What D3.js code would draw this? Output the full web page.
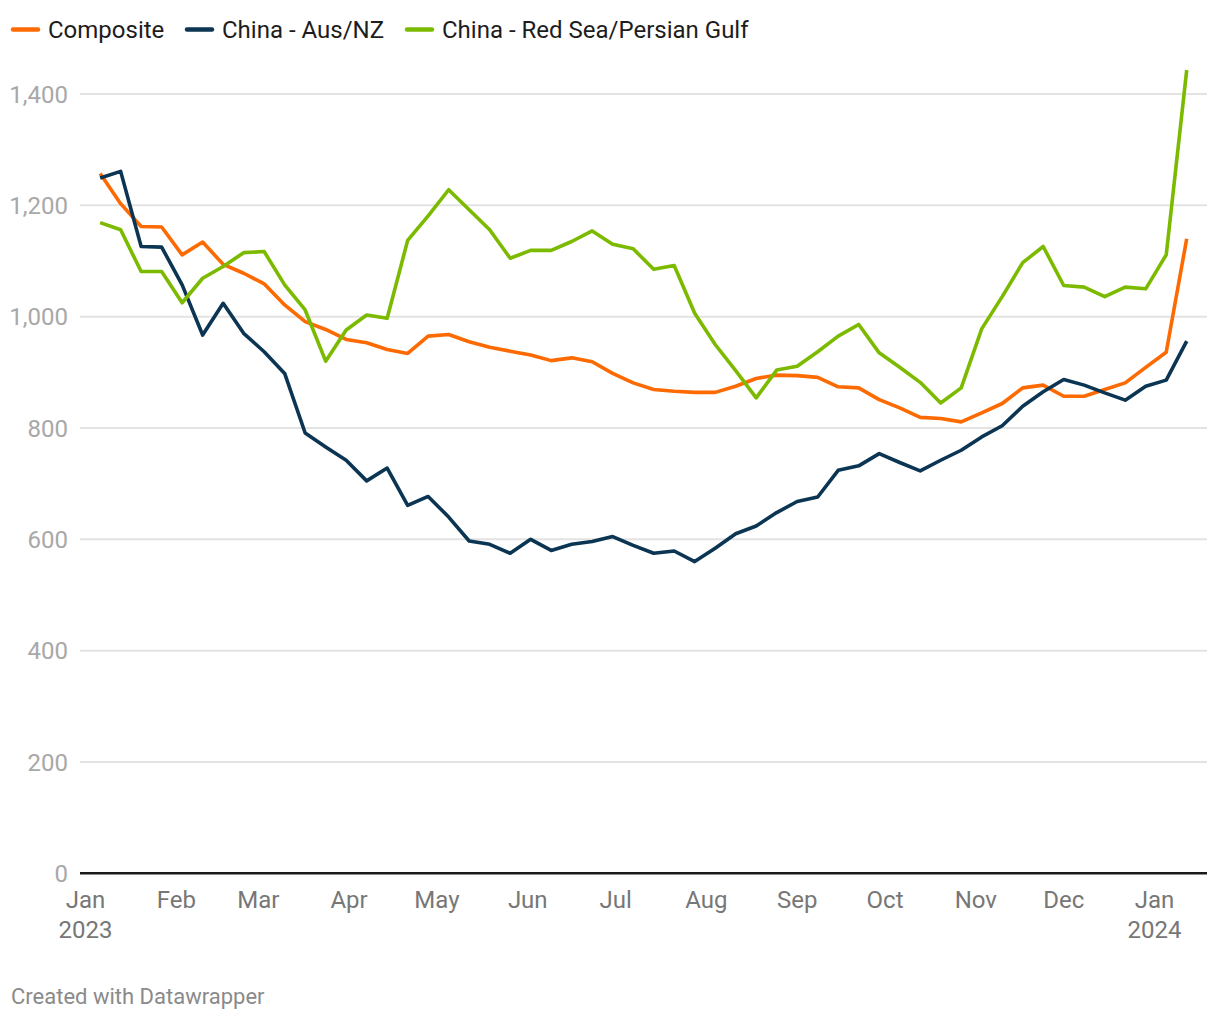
<!DOCTYPE html>
<html>
<head>
<meta charset="utf-8">
<script src="https://cdn.jsdelivr.net/npm/d3@7"></script>
<style>
  html, body { margin: 0; padding: 0; background: #fff; }
  svg { display: block; font-family: Roboto, "Noto Sans", sans-serif; }
</style>
</head>
<body>
<svg id="chart" width="1220" height="1020"></svg>
<script>
// ---- Data ----
const dates = [
  "2023-01-06","2023-01-13","2023-01-20","2023-01-27","2023-02-03","2023-02-10","2023-02-17","2023-02-24",
  "2023-03-03","2023-03-10","2023-03-17","2023-03-24","2023-03-31","2023-04-07","2023-04-14","2023-04-21",
  "2023-04-28","2023-05-05","2023-05-12","2023-05-19","2023-05-26","2023-06-02","2023-06-09","2023-06-16",
  "2023-06-23","2023-06-30","2023-07-07","2023-07-14","2023-07-21","2023-07-28","2023-08-04","2023-08-11",
  "2023-08-18","2023-08-25","2023-09-01","2023-09-08","2023-09-15","2023-09-22","2023-09-29","2023-10-06",
  "2023-10-13","2023-10-20","2023-10-27","2023-11-03","2023-11-10","2023-11-17","2023-11-24","2023-12-01",
  "2023-12-08","2023-12-15","2023-12-22","2023-12-29","2024-01-05","2024-01-12"
];
const composite = [1257,1203,1162,1161,1111,1134,1094,1078,1059,1021,991,977,959,953,941,934,965,968,955,945,938,931,921,926,919,898,881,869,866,864,864,875,889,895,894,891,874,872,851,836,819,817,811,827,844,872,877,857,857,869,881,909,936,1140];
const chinaAusNz = [1249,1261,1126,1125,1057,967,1024,970,937,898,791,766,742,705,728,661,677,640,597,591,575,600,580,591,596,605,589,575,579,560,584,610,624,648,668,676,724,732,754,738,723,742,760,784,804,839,865,887,877,863,850,875,886,956];
const chinaRedSea = [1169,1156,1081,1081,1025,1069,1090,1115,1117,1057,1012,920,976,1003,997,1137,1181,1228,1192,1156,1105,1119,1119,1135,1154,1130,1122,1085,1092,1006,950,903,854,904,911,937,965,986,935,909,882,845,872,978,1036,1097,1126,1056,1053,1036,1053,1050,1111,1443];

const seriesNames = ["Composite", "China - Aus/NZ", "China - Red Sea/Persian Gulf"];
const seriesColors = ["#fd6a02", "#0b3552", "#7cba00"];

const yTicks = [0, 200, 400, 600, 800, 1000, 1200, 1400];
const xTickDates = ["2023-01-01","2023-02-01","2023-03-01","2023-04-01","2023-05-01","2023-06-01","2023-07-01",
                    "2023-08-01","2023-09-01","2023-10-01","2023-11-01","2023-12-01","2024-01-01"];
const xTickLabels = [["Jan","2023"],["Feb"],["Mar"],["Apr"],["May"],["Jun"],["Jul"],["Aug"],["Sep"],["Oct"],["Nov"],["Dec"],["Jan","2024"]];

// ---- Layout ----
const plotLeft = 80, plotRight = 1207;
const svg = d3.select("#chart");
const parse = d3.utcParse("%Y-%m-%d");

const x = d3.scaleUtc()
  .domain([parse("2023-01-01"), parse("2024-01-01")])
  .range([85.5, 1154.5]);
const y = d3.scaleLinear().domain([0, 1400]).range([873.3, 94]);

// Gridlines + y labels
const grid = svg.append("g");
yTicks.forEach(t => {
  if (t !== 0) {
    grid.append("line")
      .attr("x1", plotLeft).attr("x2", plotRight)
      .attr("y1", y(t)).attr("y2", y(t))
      .attr("stroke", "#e3e3e3").attr("stroke-width", 2);
  }
  grid.append("text")
    .attr("x", 68).attr("y", y(t)).attr("dy", "0.36em")
    .attr("text-anchor", "end")
    .attr("font-size", 24).attr("fill", "#a8a8a8")
    .text(d3.format(",")(t));
});

// Lines
const seriesData = [composite, chinaAusNz, chinaRedSea];
const line = d3.line()
  .x((d, i) => x(parse(dates[i])))
  .y(d => y(d));
seriesData.forEach((s, k) => {
  svg.append("path")
    .datum(s)
    .attr("d", line)
    .attr("fill", "none")
    .attr("stroke", seriesColors[k])
    .attr("stroke-width", 3.6)
    .attr("stroke-linejoin", "round")
    .attr("stroke-linecap", "butt");
});

// Baseline
svg.append("line")
  .attr("x1", plotLeft).attr("x2", plotRight)
  .attr("y1", y(0)).attr("y2", y(0))
  .attr("stroke", "#1a1a1a").attr("stroke-width", 2.5);

// X labels
const xg = svg.append("g");
xTickDates.forEach((d, i) => {
  const t = xg.append("text")
    .attr("x", x(parse(d)))
    .attr("y", 908)
    .attr("text-anchor", "middle")
    .attr("font-size", 24).attr("fill", "#777");
  xTickLabels[i].forEach((lab, j) => {
    t.append("tspan").attr("x", x(parse(d))).attr("dy", j === 0 ? 0 : 30).text(lab);
  });
});

// Legend
const legendX = [11, 185, 405];
seriesNames.forEach((name, k) => {
  const g = svg.append("g").attr("transform", `translate(${legendX[k]},29.5)`);
  g.append("line").attr("x1", 2).attr("x2", 27).attr("y1", 0).attr("y2", 0)
    .attr("stroke", seriesColors[k]).attr("stroke-width", 4.5).attr("stroke-linecap", "round");
  g.append("text").attr("x", 37).attr("y", 8.5)
    .attr("font-size", 24).attr("fill", "#1d1d1d").text(name);
});

// Credit
svg.append("text").attr("x", 11).attr("y", 1004)
  .attr("font-size", 22).attr("fill", "#8a8a8a")
  .text("Created with Datawrapper");
</script>
</body>
</html>
